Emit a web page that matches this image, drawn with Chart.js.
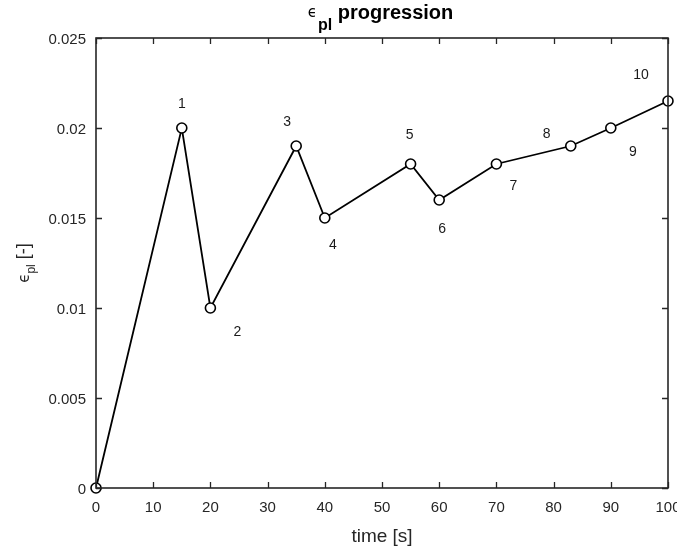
<!DOCTYPE html>
<html>
<head>
<meta charset="utf-8">
<script src="https://cdn.jsdelivr.net/npm/chart.js@4/dist/chart.umd.min.js"></script>
<style>
  html, body { margin: 0; padding: 0; background: #fff; }
  #wrap { width: 677px; height: 550px; }
</style>
</head>
<body>
<div id="wrap"><canvas id="chart-epl"></canvas></div>
<script>
// eps_pl values
const times = [0, 15, 20, 35, 40, 55, 60, 70, 83, 90, 100];
const epsPl = [0, 0.02, 0.01, 0.019, 0.015, 0.018, 0.016, 0.018, 0.019, 0.02, 0.0215];
const pointLabels = ["", "1", "2", "3", "4", "5", "6", "7", "8", "9", "10"];
const xTicks = [0, 10, 20, 30, 40, 50, 60, 70, 80, 90, 100];
const yTicks = [0, 0.005, 0.01, 0.015, 0.02, 0.025];

const axisColor = "#262626";
const fontFam = "'Liberation Sans', Arial, sans-serif";

// where each number sits relative to its marker (px)
const labelOffsets = [
  [0, 0], [0, -24], [27, 24], [-9, -24], [8, 27], [-1, -29],
  [3, 29], [17, 22], [-24, -12], [22, 24], [-27, -26],
];

const matlabLook = {
  id: "matlabLook",
  afterDraw(chart) {
    const { ctx, chartArea: a, scales } = chart;
    const xs = scales.x, ys = scales.y;
    ctx.save();
    ctx.strokeStyle = axisColor;
    ctx.lineWidth = 1.3;
    // inward ticks on all four sides
    ctx.beginPath();
    xTicks.forEach((t) => {
      const px = Math.round(xs.getPixelForValue(t)) + 0.5;
      ctx.moveTo(px, a.bottom); ctx.lineTo(px, a.bottom - 6);
      ctx.moveTo(px, a.top); ctx.lineTo(px, a.top + 6);
    });
    yTicks.forEach((t) => {
      const py = Math.round(ys.getPixelForValue(t)) + 0.5;
      ctx.moveTo(a.left, py); ctx.lineTo(a.left + 6, py);
      ctx.moveTo(a.right, py); ctx.lineTo(a.right - 6, py);
    });
    ctx.stroke();
    ctx.lineWidth = 1.6;
    ctx.strokeRect(a.left, a.top, a.right - a.left, a.bottom - a.top);

    // numbers next to the markers
    ctx.fillStyle = "#1a1a1a";
    ctx.font = "14px " + fontFam;
    ctx.textAlign = "center";
    ctx.textBaseline = "middle";
    times.forEach((t, i) => {
      if (!pointLabels[i]) return;
      const px = xs.getPixelForValue(t) + labelOffsets[i][0];
      const py = ys.getPixelForValue(epsPl[i]) + labelOffsets[i][1];
      ctx.fillText(pointLabels[i], px, py);
    });

    // title with subscript
    const cx = 380;
    const fEps = "15px 'DejaVu Sans', sans-serif";
    const fSub = "bold 16px " + fontFam;
    const fMain = "bold 20px " + fontFam;
    ctx.textAlign = "left";
    ctx.textBaseline = "alphabetic";
    ctx.font = fEps; const w1 = ctx.measureText("ϵ").width;
    ctx.font = fSub; const w2 = ctx.measureText("pl").width;
    ctx.font = fMain; const w3 = ctx.measureText(" progression").width;
    let x0 = cx - (w1 + w2 + w3) / 2;
    ctx.fillStyle = "#000";
    ctx.font = fEps; ctx.fillText("ϵ", x0, 17);
    ctx.font = fSub; ctx.fillText("pl", x0 + w1 + 1, 30);
    ctx.font = fMain; ctx.fillText(" progression", x0 + w1 + w2 + 1, 19);

    // y axis label, rotated, with subscript
    const cy = (a.top + a.bottom) / 2;
    const gEps = "15px 'DejaVu Sans', sans-serif";
    const gSub = "12px " + fontFam;
    const gMain = "18px " + fontFam;
    ctx.font = gEps; const v1 = ctx.measureText("ϵ").width;
    ctx.font = gSub; const v2 = ctx.measureText("pl").width;
    ctx.font = gMain; const v3 = ctx.measureText(" [-]").width;
    ctx.translate(29, cy);
    ctx.rotate(-Math.PI / 2);
    let y0 = -(v1 + v2 + v3) / 2;
    ctx.fillStyle = axisColor;
    ctx.font = gEps; ctx.fillText("ϵ", y0, 0);
    ctx.font = gSub; ctx.fillText("pl", y0 + v1, 6);
    ctx.font = gMain; ctx.fillText(" [-]", y0 + v1 + v2, 0);
    ctx.restore();
  },
};

new Chart(document.getElementById("chart-epl"), {
  type: "scatter",
  data: {
    datasets: [
      {
        label: "eps_pl",
        data: times.map((t, i) => ({ x: t, y: epsPl[i] })),
        showLine: true,
        borderColor: "#000",
        borderWidth: 1.8,
        pointRadius: 5,
        pointBorderWidth: 1.6,
        pointBackgroundColor: "#fff",
        pointBorderColor: "#000",
        clip: false,
      },
    ],
  },
  options: {
    responsive: true,
    maintainAspectRatio: false,
    animation: false,
    layout: { padding: { top: 38, right: 9, left: 0, bottom: 0 } },
    plugins: {
      legend: { display: false },
      tooltip: { enabled: false },
    },
    scales: {
      x: {
        type: "linear",
        min: 0,
        max: 100,
        afterBuildTicks: (s) => { s.ticks = xTicks.map((v) => ({ value: v })); },
        grid: { display: false, drawTicks: false },
        border: { display: false },
        ticks: { color: axisColor, font: { family: fontFam, size: 15 }, padding: 11, maxRotation: 0 },
        title: { display: true, text: "time [s]", color: axisColor, font: { family: fontFam, size: 19 }, padding: { top: 0, bottom: 2 } },
        afterFit: (s) => { s.height = 62; s.paddingLeft = 0; s.paddingRight = 0; },
      },
      y: {
        type: "linear",
        min: 0,
        max: 0.025,
        afterBuildTicks: (s) => { s.ticks = yTicks.map((v) => ({ value: v })); },
        grid: { display: false, drawTicks: false },
        border: { display: false },
        ticks: {
          color: axisColor,
          font: { family: fontFam, size: 15 },
          padding: 10,
          labelOffset: 2,
          callback: (v) => String(Number(v.toFixed(3))),
        },
        afterFit: (s) => { s.width = 96; s.paddingTop = 0; s.paddingBottom = 0; },
      },
    },
  },
  plugins: [matlabLook],
});
</script>
</body>
</html>
